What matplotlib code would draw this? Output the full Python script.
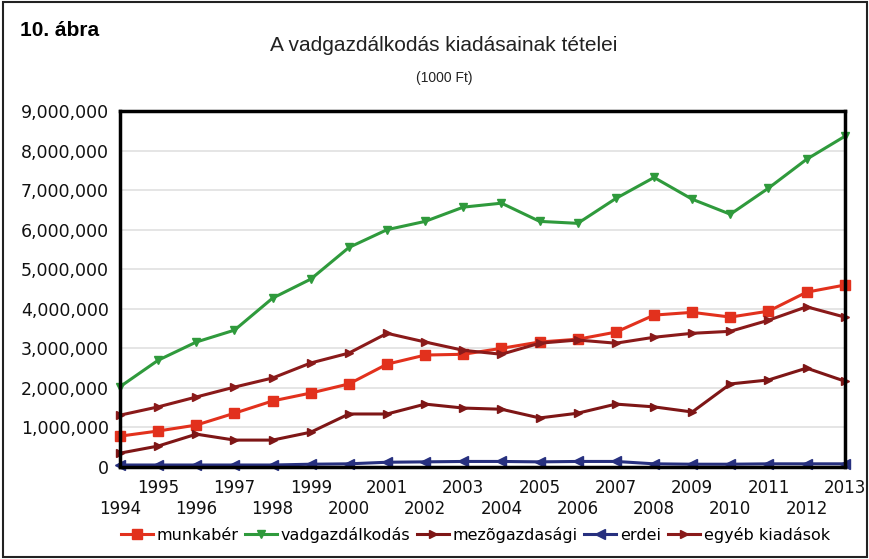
import matplotlib
matplotlib.use("Agg")
import matplotlib.pyplot as plt
from matplotlib.patches import Rectangle
from matplotlib.ticker import FuncFormatter

# Data (1000 Ft)
years = list(range(1994, 2014))
munkaber = [780000, 910000, 1060000, 1360000, 1670000, 1870000, 2100000, 2600000, 2830000, 2850000,
            3000000, 3160000, 3230000, 3410000, 3840000, 3910000, 3790000, 3940000, 4420000, 4600000]
vadgazdalkodas = [2030000, 2700000, 3160000, 3460000, 4270000, 4750000, 5550000, 6000000, 6210000, 6570000,
                  6670000, 6210000, 6160000, 6790000, 7320000, 6770000, 6390000, 7050000, 7780000, 8360000]
mezogazdasagi = [350000, 530000, 830000, 680000, 680000, 880000, 1340000, 1340000, 1590000, 1490000,
                 1460000, 1240000, 1360000, 1590000, 1520000, 1390000, 2100000, 2200000, 2500000, 2170000]
erdei = [50000, 50000, 50000, 50000, 50000, 70000, 80000, 120000, 130000, 140000,
         140000, 130000, 140000, 140000, 80000, 70000, 70000, 80000, 80000, 80000]
egyeb = [1310000, 1520000, 1770000, 2020000, 2250000, 2630000, 2880000, 3380000, 3160000, 2950000,
         2850000, 3130000, 3210000, 3130000, 3280000, 3380000, 3430000, 3710000, 4050000, 3790000]

plt.rcParams['font.family'] = ['DejaVu Sans']

fig = plt.figure(figsize=(8.7, 5.59), dpi=100)
ax = fig.add_axes([0.138, 0.1646, 0.833, 0.6368])

# outer frame of the figure
fig.patches.append(Rectangle((0.003, 0.003), 0.994, 0.994, transform=fig.transFigure,
                             fill=False, edgecolor='#222222', linewidth=1.5))

fig.text(0.023, 0.945, "10. ábra", fontsize=15, fontweight='bold',
         family=['Liberation Sans Narrow', 'Liberation Sans'], va='center', ha='left')
fig.text(0.51, 0.918, "A vadgazdálkodás kiadásainak tételei", fontsize=15,
         family=['Liberation Sans', 'DejaVu Sans'], ha='center', va='center', color='#222222')
fig.text(0.511, 0.86, "(1000 Ft)", fontsize=10,
         family=['Liberation Sans', 'DejaVu Sans'], ha='center', va='center', color='#222222')

ax.plot(years, munkaber, color='#e2311d', marker='s', markersize=7, linewidth=2.2, label='munkabér', clip_on=False)
ax.plot(years, vadgazdalkodas, color='#2f9a3c', marker='v', markersize=6, linewidth=2.2, label='vadgazdálkodás', clip_on=False)
ax.plot(years, mezogazdasagi, color='#7e1616', marker='>', markersize=6, linewidth=2.2, label='mezõgazdasági', clip_on=False)
ax.plot(years, erdei, color='#27307f', marker='<', markersize=7, linewidth=2.2, label='erdei', clip_on=False)
ax.plot(years, egyeb, color='#8a1a1a', marker='>', markersize=6, linewidth=2.2, label='egyéb kiadások', clip_on=False)

ax.set_xlim(1994, 2013)
ax.set_ylim(0, 9000000)
ax.set_yticks(range(0, 9000001, 1000000))
ax.yaxis.set_major_formatter(FuncFormatter(lambda v, p: f"{int(v):,}"))

# odd years on the upper row, even years on the lower row
odd_years = [y for y in years if y % 2]
even_years = [y for y in years if y % 2 == 0]
ax.set_xticks(odd_years)
ax.set_xticklabels([str(y) for y in odd_years])
ax.set_xticks(even_years, minor=True)
ax.set_xticklabels([str(y) for y in even_years], minor=True)

ax.tick_params(axis='both', which='both', length=0, labelsize=12.5, colors='#111111')
ax.tick_params(axis='x', which='major', pad=9, labelsize=12)
ax.tick_params(axis='x', which='minor', pad=24, labelsize=12)
ax.tick_params(axis='y', pad=8)
ax.grid(axis='y', color='#e0e0e0', linewidth=1.2)
ax.set_axisbelow(True)
for s in ax.spines.values():
    s.set_linewidth(2.5)
    s.set_color('black')

ax.legend(loc='center', bbox_to_anchor=(0.49, -0.19), ncol=5, frameon=False,
          fontsize=11.5, handlelength=2.0, handletextpad=0.25, columnspacing=0.4)

fig.savefig("out.png", dpi=100)
